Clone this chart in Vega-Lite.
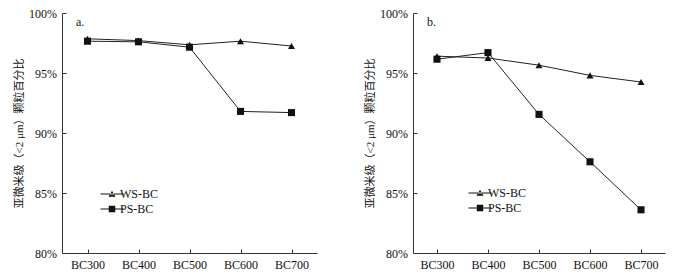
{
  "$schema": "https://vega.github.io/schema/vega-lite/v6.json",
  "padding": {"left": 13, "top": 7, "right": 5, "bottom": 2},
  "datasets": {
    "a": [
      {"temp": "BC300", "series": "WS-BC", "value": 97.85},
      {"temp": "BC400", "series": "WS-BC", "value": 97.7},
      {"temp": "BC500", "series": "WS-BC", "value": 97.35},
      {"temp": "BC600", "series": "WS-BC", "value": 97.65},
      {"temp": "BC700", "series": "WS-BC", "value": 97.25},
      {"temp": "BC300", "series": "PS-BC", "value": 97.65},
      {"temp": "BC400", "series": "PS-BC", "value": 97.6},
      {"temp": "BC500", "series": "PS-BC", "value": 97.15},
      {"temp": "BC600", "series": "PS-BC", "value": 91.8},
      {"temp": "BC700", "series": "PS-BC", "value": 91.7}
    ],
    "b": [
      {"temp": "BC300", "series": "WS-BC", "value": 96.4},
      {"temp": "BC400", "series": "WS-BC", "value": 96.25},
      {"temp": "BC500", "series": "WS-BC", "value": 95.65},
      {"temp": "BC600", "series": "WS-BC", "value": 94.8},
      {"temp": "BC700", "series": "WS-BC", "value": 94.25},
      {"temp": "BC300", "series": "PS-BC", "value": 96.15},
      {"temp": "BC400", "series": "PS-BC", "value": 96.7},
      {"temp": "BC500", "series": "PS-BC", "value": 91.55},
      {"temp": "BC600", "series": "PS-BC", "value": 87.6},
      {"temp": "BC700", "series": "PS-BC", "value": 83.6}
    ]
  },
  "config": {
    "view": {"stroke": null},
    "font": "Liberation Serif",
    "concat": {"spacing": 47},
    "axis": {
      "grid": false,
      "domainColor": "#333",
      "tickColor": "#333",
      "labelColor": "#111",
      "labelFont": "Liberation Serif",
      "labelFontSize": 12,
      "tickSize": -4,
      "titleFont": "Liberation Serif, Noto Sans CJK SC",
      "titleFontSize": 11,
      "titleFontWeight": "normal",
      "titleColor": "#111"
    },
    "axisX": {"labelPadding": 10, "labelAngle": 0},
    "axisY": {"labelPadding": 9.5, "titlePadding": 4},
    "legend": {
      "title": null,
      "orient": "none",
      "padding": 0,
      "symbolSize": 100,
      "symbolOpacity": 1,
      "symbolFillColor": "#111",
      "symbolStrokeColor": "#111",
      "symbolStrokeWidth": 1,
      "labelOffset": 2,
      "labelFont": "Liberation Serif",
      "labelFontSize": 12,
      "labelColor": "#111",
      "rowPadding": 3
    }
  },
  "hconcat": [
    {
      "width": 255,
      "height": 240,
      "title": {"text": "a.", "anchor": "start", "frame": "group", "offset": -22, "dx": 14, "fontSize": 12, "fontWeight": "normal", "font": "Liberation Serif", "color": "#111"},
      "data": {"name": "a"},
      "encoding": {
        "x": {"field": "temp", "type": "ordinal", "scale": {"type": "point", "padding": 0.5}, "axis": {"title": null}},
        "y": {"field": "value", "type": "quantitative", "scale": {"domain": [80, 100]}, "axis": {"values": [80, 85, 90, 95, 100], "labelExpr": "datum.value + '%'", "title": "亚微米级（<2 μm）颗粒百分比"}}
      },
      "layer": [
        {"mark": {"type": "line", "color": "#222", "strokeWidth": 1}, "encoding": {"detail": {"field": "series"}}},
        {
          "mark": {"type": "point", "filled": true, "color": "#111", "size": 50, "opacity": 1},
          "encoding": {
            "shape": {"field": "series", "scale": {"domain": ["WS-BC", "PS-BC"], "range": ["triangle-up", "square"]}, "legend": null}
          }
        },
        {
          "mark": {"type": "point", "filled": false, "color": "#111", "fill": "#111", "stroke": "#111", "strokeWidth": 1, "opacity": 0},
          "encoding": {
            "shape": {
              "field": "series",
              "scale": {"domain": ["WS-BC", "PS-BC"], "range": ["M-2.3,-0.1L2.3,-0.1L2.3,0.1L-2.3,0.1ZM-0.7,0.55L0.7,0.55L0,-0.65Z", "M-2.3,-0.1L2.3,-0.1L2.3,0.1L-2.3,0.1ZM-0.65,-0.65L0.65,-0.65L0.65,0.65L-0.65,0.65Z"]},
              "legend": {"legendX": 44, "legendY": 175}
            }
          }
        }
      ],
      "resolve": {"scale": {"shape": "independent"}}
    },
    {
      "width": 252,
      "height": 240,
      "title": {"text": "b.", "anchor": "start", "frame": "group", "offset": -22, "dx": 14, "fontSize": 12, "fontWeight": "normal", "font": "Liberation Serif", "color": "#111"},
      "data": {"name": "b"},
      "encoding": {
        "x": {"field": "temp", "type": "ordinal", "scale": {"type": "point", "padding": 0.47}, "axis": {"title": null}},
        "y": {"field": "value", "type": "quantitative", "scale": {"domain": [80, 100]}, "axis": {"values": [80, 85, 90, 95, 100], "labelExpr": "datum.value + '%'", "title": "亚微米级（<2 μm）颗粒百分比"}}
      },
      "layer": [
        {"mark": {"type": "line", "color": "#222", "strokeWidth": 1}, "encoding": {"detail": {"field": "series"}}},
        {
          "mark": {"type": "point", "filled": true, "color": "#111", "size": 50, "opacity": 1},
          "encoding": {
            "shape": {"field": "series", "scale": {"domain": ["WS-BC", "PS-BC"], "range": ["triangle-up", "square"]}, "legend": null}
          }
        },
        {
          "mark": {"type": "point", "filled": false, "color": "#111", "fill": "#111", "stroke": "#111", "strokeWidth": 1, "opacity": 0},
          "encoding": {
            "shape": {
              "field": "series",
              "scale": {"domain": ["WS-BC", "PS-BC"], "range": ["M-2.3,-0.1L2.3,-0.1L2.3,0.1L-2.3,0.1ZM-0.7,0.55L0.7,0.55L0,-0.65Z", "M-2.3,-0.1L2.3,-0.1L2.3,0.1L-2.3,0.1ZM-0.65,-0.65L0.65,-0.65L0.65,0.65L-0.65,0.65Z"]},
              "legend": {"legendX": 61, "legendY": 174}
            }
          }
        }
      ],
      "resolve": {"scale": {"shape": "independent"}}
    }
  ],
  "resolve": {"scale": {"shape": "independent"}, "legend": {"shape": "independent"}}
}
